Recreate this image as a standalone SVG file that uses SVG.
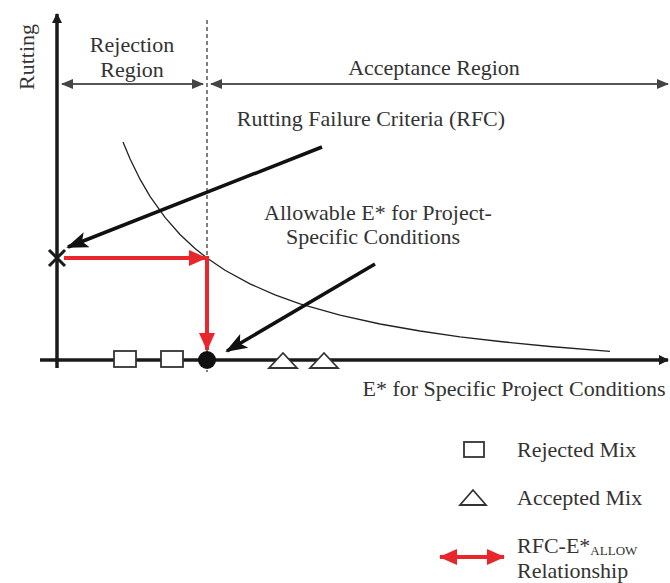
<svg xmlns="http://www.w3.org/2000/svg" width="670" height="583" viewBox="0 0 670 583">
<style>
text{font-family:"Liberation Serif","Times New Roman",serif;font-size:22px;fill:#333}
.axis{stroke:#1a1a1a;stroke-width:3.5;fill:none}
.region{stroke:#555;stroke-width:2;fill:none}
.ptr{stroke:#111;stroke-width:3.5;fill:none}
.red{stroke:#e8262b;stroke-width:4;fill:none}
.mk{fill:#fff;stroke:#333;stroke-width:1.8}
</style>
<defs>
<marker id="ah" markerWidth="10" markerHeight="10" refX="9" refY="5" orient="auto" markerUnits="userSpaceOnUse" viewBox="0 0 10 10"><path d="M0,0 L10,5 L0,10 z" fill="#1a1a1a"/></marker>
<marker id="rh" markerWidth="12" markerHeight="10" refX="11" refY="5" orient="auto-start-reverse" markerUnits="userSpaceOnUse" viewBox="0 0 12 10"><path d="M0,0 L12,5 L0,10 z" fill="#444"/></marker>
<marker id="bh" markerWidth="22" markerHeight="16" refX="20" refY="8" orient="auto" markerUnits="userSpaceOnUse" viewBox="0 0 22 16"><path d="M0,0 L22,8 L0,16 L5,8 z" fill="#111"/></marker>
<marker id="redh" markerWidth="18" markerHeight="16" refX="17" refY="8" orient="auto-start-reverse" markerUnits="userSpaceOnUse" viewBox="0 0 18 16"><path d="M0,0 L18,8 L0,16 z" fill="#e8262b"/></marker>
</defs>
<g id="connectors">
<line class="axis" x1="57" y1="368" x2="57" y2="14" marker-end="url(#ah)"/>
<line class="axis" x1="40" y1="360" x2="668" y2="360" marker-end="url(#ah)"/>
<line x1="207" y1="20" x2="207" y2="372" stroke="#555" stroke-width="1.5" stroke-dasharray="4,3"/>
<line class="region" x1="62" y1="84" x2="203" y2="84" marker-start="url(#rh)" marker-end="url(#rh)"/>
<line class="region" x1="211" y1="84" x2="668" y2="84" marker-start="url(#rh)" marker-end="url(#rh)"/>
<polyline points="123,142 130,158.8 140,179.2 150,196.3 165,217.4 180,234.5 195,248.5 207,258 225,270.2 250,283.9 275,294.9 300,303.8 340,315.2 380,324 420,331 460,336.8 500,341.5 550,346.5 610,351.3" stroke="#222" stroke-width="1.3" fill="none" stroke-linejoin="round"/>
<line class="ptr" x1="322" y1="147" x2="68" y2="247" marker-end="url(#bh)"/>
<line class="ptr" x1="375" y1="264" x2="227" y2="351" marker-end="url(#bh)"/>
<line class="red" x1="64" y1="258" x2="206" y2="258" marker-end="url(#redh)"/>
<line class="red" x1="207" y1="256" x2="207" y2="350" marker-end="url(#redh)"/>
</g>
<g id="rfc-point"><path d="M49,250 L65,266 M65,250 L49,266" stroke="#1a1a1a" stroke-width="3"/></g>
<g id="rejected-1"><rect class="mk" x="114" y="351" width="22" height="16"/></g>
<g id="rejected-2"><rect class="mk" x="161" y="351" width="22" height="16"/></g>
<g id="allow-point"><circle cx="207" cy="360" r="9" fill="#111"/></g>
<g id="accepted-1"><path class="mk" d="M269,368 L283,353 L297,368 z"/></g>
<g id="accepted-2"><path class="mk" d="M310,368 L324,353 L338,368 z"/></g>
<g id="labels">
<text transform="translate(34,57) rotate(-90)" text-anchor="middle">Rutting</text>
<text x="132" y="52" text-anchor="middle">Rejection</text>
<text x="132" y="77" text-anchor="middle">Region</text>
<text x="434" y="75" text-anchor="middle">Acceptance Region</text>
<text x="371" y="126" text-anchor="middle">Rutting Failure Criteria (RFC)</text>
<text x="378" y="220" text-anchor="middle">Allowable E* for Project-</text>
<text x="373" y="244" text-anchor="middle">Specific Conditions</text>
<text x="514" y="396" text-anchor="middle">E* for Specific Project Conditions</text>
</g>
<g id="legend">
<rect class="mk" x="464" y="442" width="20" height="15"/>
<text x="517" y="457">Rejected Mix</text>
<path class="mk" d="M460,505 L473,490 L486,505 z"/>
<text x="517" y="505">Accepted Mix</text>
<line class="red" x1="440" y1="557" x2="504" y2="557" marker-start="url(#redh)" marker-end="url(#redh)"/>
<text x="517" y="553">RFC-E*<tspan font-size="13" dy="2">ALLOW</tspan></text>
<text x="517" y="578">Relationship</text>
</g>
</svg>
